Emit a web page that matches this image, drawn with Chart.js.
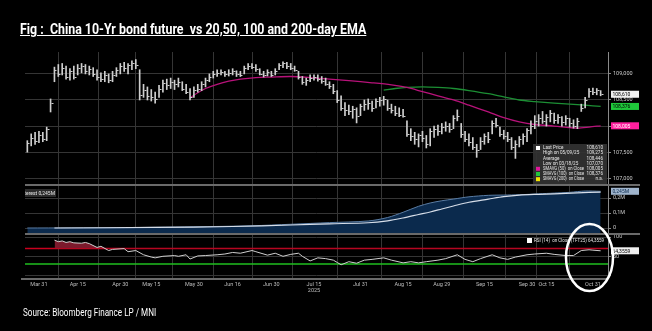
<!DOCTYPE html>
<html>
<head>
<meta charset="utf-8">
<script src="https://cdn.jsdelivr.net/npm/chart.js@4.4.1/dist/chart.umd.min.js"></script>
<style>
html, body { margin: 0; padding: 0; background: #000; width: 652px; height: 331px; overflow: hidden; }
#wrap { position: absolute; left: 0; top: 0; width: 652px; height: 331px; }
#title { position: absolute; left: 20px; top: 20px; color: #fff; font: bold 15px Roboto, sans-serif; text-decoration: underline; white-space: pre; transform-origin: 0 0; }
#source { position: absolute; left: 23px; top: 306px; color: #fff; font: 11px Roboto, sans-serif; white-space: pre; transform-origin: 0 0; }
</style>
</head>
<body>
<div id="wrap"><canvas id="c" width="652" height="331"></canvas></div>
<div id="title">Fig :  China 10-Yr bond future  vs 20,50, 100 and 200-day EMA</div>
<div id="source">Source: Bloomberg Finance LP / MNI</div>
<script>
// ====== DATA ======
// x is the trading-day index, 0 = Mar 31 2025
const firstDay = -3;
const priceLow = [
  107.50, 107.62, 107.65, 107.68, 107.70, 107.72, 108.27, 108.85, 108.95, 108.98,
  108.90, 108.88, 108.90, 108.98, 109.02, 109.00, 108.98, 108.95, 108.88, 108.85,
  108.85, 108.83, 108.85, 108.95, 109.00, 109.05, 109.00, 109.08, 109.10, 108.50,
  108.55, 108.50, 108.48, 108.44, 108.55, 108.65, 108.70, 108.72, 108.70, 108.75,
  108.68, 108.62, 108.50, 108.55, 108.65, 108.68, 108.75, 108.85, 108.92, 108.95,
  108.98, 108.95, 108.96, 108.98, 108.95, 108.95, 109.00, 109.08, 109.10, 109.05,
  108.98, 108.94, 108.96, 108.95, 108.98, 109.08, 109.12, 109.10, 109.08, 109.05,
  108.90, 108.80, 108.78, 108.85, 108.88, 108.86, 108.82, 108.78, 108.72, 108.62,
  108.45, 108.30, 108.20, 108.22, 108.15, 108.06, 108.20, 108.30, 108.32, 108.28,
  108.35, 108.38, 108.40, 108.30, 108.25, 108.20, 108.18, 108.17, 107.80, 107.72,
  107.65, 107.60, 107.70, 107.58, 107.62, 107.78, 107.82, 107.85, 107.90, 107.88,
  107.95, 108.10, 107.78, 107.70, 107.62, 107.55, 107.40, 107.55, 107.65, 107.68,
  107.85, 107.98, 107.80, 107.75, 107.70, 107.55, 107.38, 107.60, 107.65, 107.70,
  107.85, 107.95, 108.00, 108.05, 108.00, 108.08, 108.05, 108.05, 108.00, 108.02,
  107.98, 107.96, 107.95, 108.28, 108.35, 108.55, 108.60, 108.60, 108.58
];
const priceHigh = [
  107.72, 107.85, 107.88, 107.90, 107.88, 107.98, 108.52, 109.13, 109.18, 109.20,
  109.15, 109.10, 109.15, 109.18, 109.20, 109.18, 109.15, 109.12, 109.08, 109.02,
  109.05, 109.00, 109.05, 109.12, 109.20, 109.22, 109.20, 109.25, 109.275, 109.08,
  108.80, 108.75, 108.70, 108.65, 108.78, 108.88, 108.90, 108.92, 108.88, 108.92,
  108.85, 108.80, 108.72, 108.75, 108.80, 108.85, 108.92, 109.00, 109.05, 109.08,
  109.08, 109.05, 109.08, 109.10, 109.06, 109.05, 109.15, 109.20, 109.20, 109.18,
  109.10, 109.05, 109.08, 109.05, 109.10, 109.20, 109.23, 109.22, 109.20, 109.15,
  109.05, 108.95, 108.92, 108.98, 108.98, 108.98, 108.95, 108.92, 108.85, 108.80,
  108.68, 108.58, 108.45, 108.40, 108.38, 108.35, 108.42, 108.50, 108.52, 108.48,
  108.52, 108.55, 108.57, 108.50, 108.42, 108.38, 108.35, 108.32, 108.10, 107.95,
  107.88, 107.85, 107.90, 107.82, 107.95, 108.00, 108.02, 108.05, 108.08, 108.05,
  108.20, 108.31, 108.05, 107.90, 107.85, 107.78, 107.65, 107.78, 107.85, 107.88,
  108.10, 108.15, 107.98, 107.92, 107.88, 107.78, 107.72, 107.80, 107.85, 107.95,
  108.10, 108.20, 108.22, 108.28, 108.22, 108.30, 108.25, 108.22, 108.18, 108.20,
  108.15, 108.12, 108.15, 108.42, 108.55, 108.72, 108.73, 108.72, 108.68
];
const priceClose = [
  107.68, 107.78, 107.72, 107.82, 107.75, 107.95, 108.45, 109.08, 109.00, 109.12,
  108.95, 109.05, 108.95, 109.12, 109.15, 109.05, 109.10, 109.00, 108.95, 108.90,
  108.98, 108.88, 108.98, 109.08, 109.15, 109.12, 109.18, 109.20, 109.18, 108.60,
  108.70, 108.58, 108.55, 108.52, 108.72, 108.82, 108.78, 108.85, 108.80, 108.85,
  108.72, 108.65, 108.55, 108.70, 108.72, 108.80, 108.88, 108.95, 109.00, 109.02,
  109.03, 109.00, 109.02, 109.05, 109.00, 108.98, 109.12, 109.15, 109.14, 109.10,
  109.00, 108.98, 109.04, 108.98, 109.05, 109.18, 109.20, 109.15, 109.12, 109.08,
  108.95, 108.85, 108.88, 108.92, 108.95, 108.90, 108.86, 108.80, 108.76, 108.68,
  108.50, 108.35, 108.30, 108.28, 108.32, 108.20, 108.38, 108.42, 108.45, 108.35,
  108.48, 108.50, 108.52, 108.35, 108.30, 108.25, 108.22, 108.20, 107.85, 107.80,
  107.75, 107.82, 107.78, 107.65, 107.90, 107.95, 107.90, 107.98, 108.00, 107.95,
  108.15, 108.20, 107.85, 107.75, 107.70, 107.60, 107.55, 107.72, 107.80, 107.75,
  108.05, 108.02, 107.85, 107.80, 107.75, 107.60, 107.65, 107.75, 107.80, 107.92,
  108.00, 108.10, 108.15, 108.10, 108.18, 108.25, 108.12, 108.18, 108.08, 108.15,
  108.05, 108.00, 108.10, 108.35, 108.50, 108.68, 108.65, 108.70, 108.61
];

// moving averages, open interest and RSI as [day, value]
const sma50 = [[39,108.54],[41,108.64],[43,108.72],[46,108.80],[49,108.86],[52,108.90],[56,108.93],[60,108.94],[65,108.95],[70,108.93],[75,108.90],[80,108.87],[86,108.83],[91,108.79],[95,108.74],[99,108.66],[103,108.58],[107,108.50],[111,108.40],[116,108.27],[120,108.16],[124,108.08],[128,108.03],[133,108.00],[137,107.97],[139,107.96],[142,107.98],[145,108.005]];
const sma100 = [[89,108.69],[92,108.72],[95,108.74],[99,108.75],[103,108.74],[107,108.72],[111,108.68],[116,108.62],[120,108.56],[124,108.50],[128,108.47],[133,108.44],[137,108.42],[141,108.40],[145,108.376]];
const openInt = [[-3,0.0],[20,0.002],[40,0.008],[55,0.015],[65,0.025],[75,0.036],[85,0.047],[90,0.07],[94,0.105],[98,0.145],[101,0.167],[104,0.182],[107,0.193],[111,0.208],[116,0.218],[120,0.22],[124,0.222],[129,0.228],[133,0.233],[137,0.238],[141,0.247],[145,0.245]];
const openIntAvg = [[4,0.0],[30,0.004],[50,0.01],[65,0.02],[75,0.028],[85,0.035],[90,0.048],[94,0.067],[98,0.09],[101,0.107],[104,0.127],[107,0.147],[111,0.172],[116,0.193],[120,0.21],[124,0.22],[129,0.225],[133,0.228],[139,0.235],[145,0.24]];
const rsi14 = [[4,92],[5,88],[6,90],[7,86],[8,88],[9,85],[11,84],[12,86],[13,83],[15,73],[16,76],[18,65],[19,68],[22,70],[23,62],[25,65],[27,54],[29,48],[30,46],[32,50],[35,52],[36,50],[38,54],[39,43],[41,51],[43,52],[46,54],[48,56],[50,60],[52,58],[55,65],[56,62],[59,53],[61,58],[63,50],[65,55],[67,58],[68,50],[70,38],[72,46],[74,44],[76,40],[77,34],[78,28],[80,36],[82,32],[84,40],[86,42],[89,46],[91,40],[94,33],[96,36],[98,33],[100,36],[103,40],[105,44],[108,54],[110,42],[112,36],[114,44],[117,54],[119,46],[121,42],[123,48],[126,54],[128,56],[131,58],[133,55],[136,52],[138,52],[140,65],[142,67],[143,66],[145,64.36]];
const rsiLevels = [70, 30];

const xTickIdx = [0, 10, 21, 29, 40, 50, 60, 71, 83, 94, 104, 115, 126, 131, 143];
const xTickLabels = ['Mar 31', 'Apr 15', 'Apr 30', 'May 15', 'May 30', 'Jun 16', 'Jun 30', ['Jul 15', '2025'], 'Jul 31', 'Aug 15', 'Aug 29', 'Sep 15', 'Sep 30', 'Oct 15', 'Oct 31'];
const priceTicks = [107, 107.5, 108, 108.5, 109];
const oiTicks = [0, 0.1, 0.2];
const oiTickLabels = ['0', '0,1M', '0,2M'];
const rsiTicks = [0, 50, 100];

const legendNames = ['Last Price', 'High on 05/09/25', 'Average', 'Low on 03/18/25', 'SMAVG (50)  on Close', 'SMAVG (100)  on Close', 'SMAVG (200)  on Close'];
const legendValues = ['108,610', '109,275', '108,446', '107,070', '108,005', '108,376', 'n.a.'];
const legendColors = ['#ffffff', null, null, null, '#e0189a', '#22c43c', '#f2e400'];
const lastPrice = 108.61, lastSma50 = 108.005, lastSma100 = 108.376, lastOI = 0.245, lastRsi = 64.3559;

// ====== TEXT WIDTHS (condensed face) ======
function squeeze(id, width) {
    const el = document.getElementById(id);
    el.style.transform = 'scaleX(' + (width / el.offsetWidth) + ')';
}
squeeze('title', 346);
squeeze('source', 133);

// ====== CHART ======
const xMin = -3.6, xMax = 146.9;
const toPts = arr => arr.map(p => ({ x: p[0], y: p[1] }));
const bars = priceLow.map((lo, k) => ({ x: firstDay + k, y: [lo, priceHigh[k]] }));
const comma = (v, d) => v.toFixed(d).replace('.', ',');
const gridCol = '#353535';
const tiny = { size: 5.5, family: 'Roboto, sans-serif' };

function rightAxis(stackWeight, min, max, ticks, label) {
    return {
        type: 'linear', position: 'right', stack: 'panels', stackWeight: stackWeight, min: min, max: max,
        grid: { color: gridCol, tickLength: 3, tickColor: '#888' },
        border: { color: '#8a8a8a', width: 1 },
        afterBuildTicks: s => { s.ticks = ticks.map(v => ({ value: v })); },
        afterFit: s => { s.width = 44; },
        ticks: { color: '#c8c8c8', font: tiny, padding: 2, callback: label }
    };
}

// ticks for the closes, panel borders, value tags, legends
const decor = {
    id: 'decor',
    afterDatasetsDraw(chart) {
        const { ctx, scales } = chart;
        const x = scales.x, yp = scales.yPrice;
        ctx.save();
        ctx.strokeStyle = '#d0d0d0';
        ctx.lineWidth = 1;
        priceClose.forEach((c, k) => {
            const px = Math.round(x.getPixelForValue(firstDay + k)) + 0.5;
            const py = Math.round(yp.getPixelForValue(c)) + 0.5;
            ctx.beginPath(); ctx.moveTo(px, py); ctx.lineTo(px + 2, py); ctx.stroke();
        });
        ctx.restore();
    },
    afterDraw(chart) {
        const { ctx, chartArea, scales } = chart;
        const yp = scales.yPrice, yo = scales.yOI, yr = scales.yRSI;
        ctx.save();
        // panel separators
        ctx.strokeStyle = '#6a6a6a';
        ctx.lineWidth = 2;
        [yp.bottom, yo.bottom].forEach(y => {
            ctx.beginPath(); ctx.moveTo(chartArea.left, y); ctx.lineTo(640, y); ctx.stroke();
        });
        ctx.beginPath(); ctx.moveTo(chartArea.left - 4, chartArea.bottom + 1); ctx.lineTo(chartArea.right, chartArea.bottom + 1); ctx.stroke();

        // legend box, price panel
        const bx = 533, bw = chartArea.right - 1 - bx, by = yp.bottom - 41;
        ctx.fillStyle = 'rgba(50,50,50,0.92)';
        ctx.fillRect(bx, by, bw, yp.bottom - 1 - by);
        ctx.font = '4.6px Roboto, sans-serif';
        ctx.textBaseline = 'middle';
        legendNames.forEach((n, k) => {
            const ry = by + 4 + k * 5.2;
            if (legendColors[k]) { ctx.fillStyle = legendColors[k]; ctx.fillRect(bx + 3, ry - 2, 4, 4); }
            ctx.fillStyle = '#e6e6e6';
            ctx.textAlign = 'left'; ctx.fillText(n, bx + 10, ry, 41);
            ctx.textAlign = 'right'; ctx.fillText(legendValues[k], bx + bw - 4, ry, 17);
        });

        // value tags on the right axis
        function tag(text, py, bg, fg) {
            ctx.fillStyle = bg; ctx.fillRect(chartArea.right + 3, py - 3.5, 28, 7);
            ctx.fillStyle = fg; ctx.textAlign = 'left'; ctx.font = '5px Roboto, sans-serif';
            ctx.fillText(text, chartArea.right + 4.5, py + 0.5, 25);
        }
        tag(comma(lastPrice, 3), yp.getPixelForValue(lastPrice), '#f0f0f0', '#000');
        tag(comma(lastSma100, 3), yp.getPixelForValue(lastSma100), '#1fc83a', '#000');
        tag(comma(lastSma50, 3), yp.getPixelForValue(lastSma50), '#ff1f9e', '#fff');
        tag(comma(lastOI, 3) + 'M', yo.getPixelForValue(lastOI), '#9fb4cc', '#0b2a4d');
        tag(comma(lastRsi, 4), yr.getPixelForValue(lastRsi), '#f0f0f0', '#000');

        // open interest label, cut by the panel edge
        ctx.fillStyle = 'rgba(45,45,45,0.95)';
        ctx.fillRect(chartArea.left, yo.top + 4, 31, 8);
        ctx.save();
        ctx.beginPath(); ctx.rect(chartArea.left, yo.top, 100, 20); ctx.clip();
        ctx.fillStyle = '#e6e6e6'; ctx.font = '5px Roboto, sans-serif'; ctx.textAlign = 'right';
        ctx.fillText('Open Interest ' + comma(lastOI, 3) + 'M', chartArea.left + 30, yo.top + 8.5);
        ctx.restore();

        // RSI legend
        ctx.fillStyle = '#ffffff'; ctx.fillRect(527, yr.top + 4, 5, 5);
        ctx.fillStyle = '#e6e6e6'; ctx.font = '4.6px Roboto, sans-serif'; ctx.textAlign = 'left';
        ctx.fillText('RSI (14)  on Close (TFT25) ' + comma(lastRsi, 4), 534, yr.top + 6.5, 70);

        // highlight ellipse
        ctx.strokeStyle = '#ffffff'; ctx.lineWidth = 2.5;
        ctx.beginPath(); ctx.ellipse(589.5, 257.5, 23.5, 33.5, 0, 0, Math.PI * 2); ctx.stroke();
        ctx.restore();
    }
};

const chart = new Chart(document.getElementById('c'), {
    type: 'line',
    data: {
        datasets: [
            { type: 'bar', label: 'Price', data: bars, yAxisID: 'yPrice', backgroundColor: '#cfcfcf', barThickness: 1, grouped: false },
            { label: 'SMAVG (50)', data: toPts(sma50), yAxisID: 'yPrice', borderColor: '#b8127a', borderWidth: 1.3, pointRadius: 0, tension: 0.3 },
            { label: 'SMAVG (100)', data: toPts(sma100), yAxisID: 'yPrice', borderColor: '#1c8f34', borderWidth: 1.3, pointRadius: 0, tension: 0.3 },
            { label: 'RSI', data: toPts(rsi14), yAxisID: 'yRSI', borderColor: '#cfcfcf', borderWidth: 1, pointRadius: 0,
              fill: { target: { value: 70 }, above: '#7c1a2c', below: 'rgba(0,0,0,0)' } },
            { label: 'RSI 70', data: [{ x: xMin, y: rsiLevels[0] }, { x: xMax, y: rsiLevels[0] }], yAxisID: 'yRSI', borderColor: '#c8001e', borderWidth: 1.5, pointRadius: 0 },
            { label: 'RSI 30', data: [{ x: xMin, y: rsiLevels[1] }, { x: xMax, y: rsiLevels[1] }], yAxisID: 'yRSI', borderColor: '#1fbf1f', borderWidth: 1.5, pointRadius: 0 },
            { label: 'OI avg', data: toPts(openIntAvg), yAxisID: 'yOI', borderColor: '#d6dde8', borderWidth: 1.2, pointRadius: 0, tension: 0.3 },
            { label: 'Open Interest', data: toPts(openInt), yAxisID: 'yOI', borderColor: '#5a7ca3', backgroundColor: '#0b2a4d', fill: 'start', borderWidth: 1, pointRadius: 0, tension: 0.3 }
        ]
    },
    options: {
        responsive: false,
        animation: false,
        devicePixelRatio: 1,
        layout: { padding: { left: 25, top: 52, right: 0, bottom: 0 } },
        plugins: { legend: { display: false }, tooltip: { enabled: false } },
        scales: {
            x: {
                type: 'linear', min: xMin, max: xMax, offset: false,
                grid: { color: gridCol, tickLength: 2, tickColor: '#777' },
                border: { display: false },
                afterBuildTicks: s => { s.ticks = xTickIdx.map(v => ({ value: v })); },
                afterFit: s => { s.height = 53; },
                ticks: { color: '#bdbdbd', font: tiny, maxRotation: 0, autoSkip: false, padding: 1,
                         callback: v => { const k = xTickIdx.indexOf(v); return k < 0 ? '' : xTickLabels[k]; } }
            },
            yPrice: rightAxis(133, 106.87, 109.42, priceTicks, v => comma(v, 3)),
            yOI: rightAxis(49, -0.04, 0.287, oiTicks, v => oiTickLabels[oiTicks.indexOf(v)]),
            yRSI: rightAxis(44, -6.4, 108, rsiTicks, v => (v === 0 ? '' : String(v)))
        }
    },
    plugins: [decor]
});
</script>
</body>
</html>
